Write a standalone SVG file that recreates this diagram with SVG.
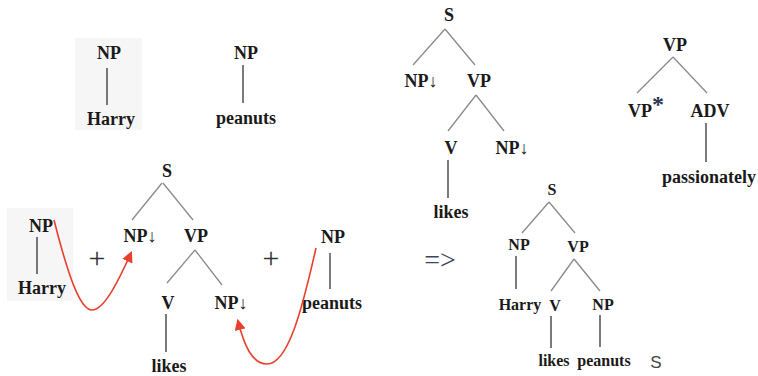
<svg xmlns="http://www.w3.org/2000/svg" width="758" height="376" viewBox="0 0 758 376">
<style>
.t{font-family:"Liberation Serif","Times New Roman",serif;font-weight:bold;font-size:18px;fill:#1a1a1a;text-anchor:middle}
.s{font-size:16px}
.b{stroke:#8a8a8a;stroke-width:1.3;fill:none}
.v{stroke:#333;stroke-width:1.3;fill:none}
.box{fill:#f6f6f6}
.red{stroke:#e8402c;stroke-width:1.6;fill:none}
.op{font-family:"Liberation Serif","Times New Roman",serif;font-size:30px;fill:#333;text-anchor:middle}
</style>
<defs>
<marker id="ah" viewBox="0 0 10 10" refX="8" refY="5" markerWidth="7" markerHeight="7" orient="auto" markerUnits="strokeWidth">
<path d="M0,0 L10,5 L0,10 Z" fill="#e8402c"/>
</marker>
</defs>
<rect width="758" height="376" fill="#fff"/>

<g id="tree-harry-top">
<rect class="box" x="75" y="38" width="67" height="92"/>
<text class="t" x="109" y="59">NP</text>
<line class="v" x1="107" y1="68" x2="107" y2="105"/>
<text class="t" x="111" y="125">Harry</text>
</g>

<g id="tree-peanuts-top">
<text class="t" x="246" y="59">NP</text>
<line class="v" x1="243" y1="65" x2="243" y2="103"/>
<text class="t" x="246" y="124">peanuts</text>
</g>

<g id="tree-harry-bottom">
<rect class="box" x="7" y="208" width="66" height="93"/>
<text class="t" x="41" y="232">NP</text>
<line class="v" x1="37" y1="237" x2="37" y2="274"/>
<text class="t" x="42" y="294">Harry</text>
</g>

<g id="plus1"><text class="op" x="97" y="268">+</text></g>

<g id="tree-likes-bottom">
<text class="t" x="167" y="177">S</text>
<line class="b" x1="162" y1="183" x2="132" y2="220"/>
<line class="b" x1="163" y1="183" x2="193" y2="220"/>
<text class="t" x="140" y="242">NP↓</text>
<text class="t" x="196" y="242">VP</text>
<line class="b" x1="195" y1="250" x2="167" y2="283"/>
<line class="b" x1="195" y1="250" x2="222" y2="285"/>
<text class="t" x="168" y="309">V</text>
<text class="t" x="231" y="309">NP↓</text>
<line class="v" x1="166" y1="314" x2="166" y2="352"/>
<text class="t" x="169" y="372">likes</text>
</g>

<g id="plus2"><text class="op" x="271" y="268">+</text></g>

<g id="tree-peanuts-bottom">
<text class="t" x="333" y="243">NP</text>
<line class="v" x1="330" y1="253" x2="330" y2="289"/>
<text class="t" x="332" y="309">peanuts</text>
</g>

<g id="connectors">
<path class="red" d="M54,220 C68,275 80,310 92,310 C104,310 118,282 131,253" marker-end="url(#ah)"/>
<path class="red" d="M316,248 C302,310 288,364 267,364 C252,364 244,345 238,321" marker-end="url(#ah)"/>
</g>

<g id="tree-likes-top">
<text class="t" x="449" y="21">S</text>
<line class="b" x1="445" y1="29" x2="413" y2="65"/>
<line class="b" x1="445" y1="29" x2="475" y2="65"/>
<text class="t" x="421" y="87">NP↓</text>
<text class="t" x="479" y="87">VP</text>
<line class="b" x1="476" y1="95" x2="448" y2="131"/>
<line class="b" x1="476" y1="95" x2="504" y2="131"/>
<text class="t" x="451" y="154">V</text>
<text class="t" x="512" y="154">NP↓</text>
<line class="v" x1="448" y1="160" x2="448" y2="198"/>
<text class="t" x="451" y="218">likes</text>
</g>

<g id="tree-adv">
<text class="t" x="675" y="51">VP</text>
<line class="b" x1="673" y1="57" x2="637" y2="93"/>
<line class="b" x1="673" y1="57" x2="707" y2="93"/>
<text class="t" x="640" y="117">VP</text>
<text class="t" x="658" y="112" style="font-size:24px;fill:#2a3550">*</text>
<text class="t" x="710" y="117">ADV</text>
<line class="v" x1="706" y1="123" x2="706" y2="162"/>
<text class="t" x="709" y="183">passionately</text>
</g>

<g id="arrow-result"><text class="op" x="440" y="269" style="font-size:28px;fill:#3a4560">=&gt;</text></g>

<g id="tree-result">
<text class="t s" x="552" y="195">S</text>
<line class="b" x1="549" y1="202" x2="522" y2="233"/>
<line class="b" x1="549" y1="202" x2="575" y2="233"/>
<text class="t s" x="519" y="250">NP</text>
<text class="t s" x="578" y="252">VP</text>
<line class="v" x1="516" y1="256" x2="516" y2="289"/>
<line class="b" x1="574" y1="259" x2="551" y2="291"/>
<line class="b" x1="574" y1="259" x2="600" y2="291"/>
<text class="t s" x="520" y="310">Harry</text>
<text class="t s" x="555" y="311">V</text>
<text class="t s" x="603" y="310">NP</text>
<line class="v" x1="551" y1="316" x2="551" y2="348"/>
<line class="v" x1="600" y1="315" x2="600" y2="347"/>
<text class="t s" x="554" y="366">likes</text>
<text class="t s" x="604" y="366">peanuts</text>
</g>

<g id="stray-s"><text x="656" y="368" style="font-family:'Liberation Sans',Arial,sans-serif;font-size:17px;fill:#444;text-anchor:middle">S</text></g>
</svg>
